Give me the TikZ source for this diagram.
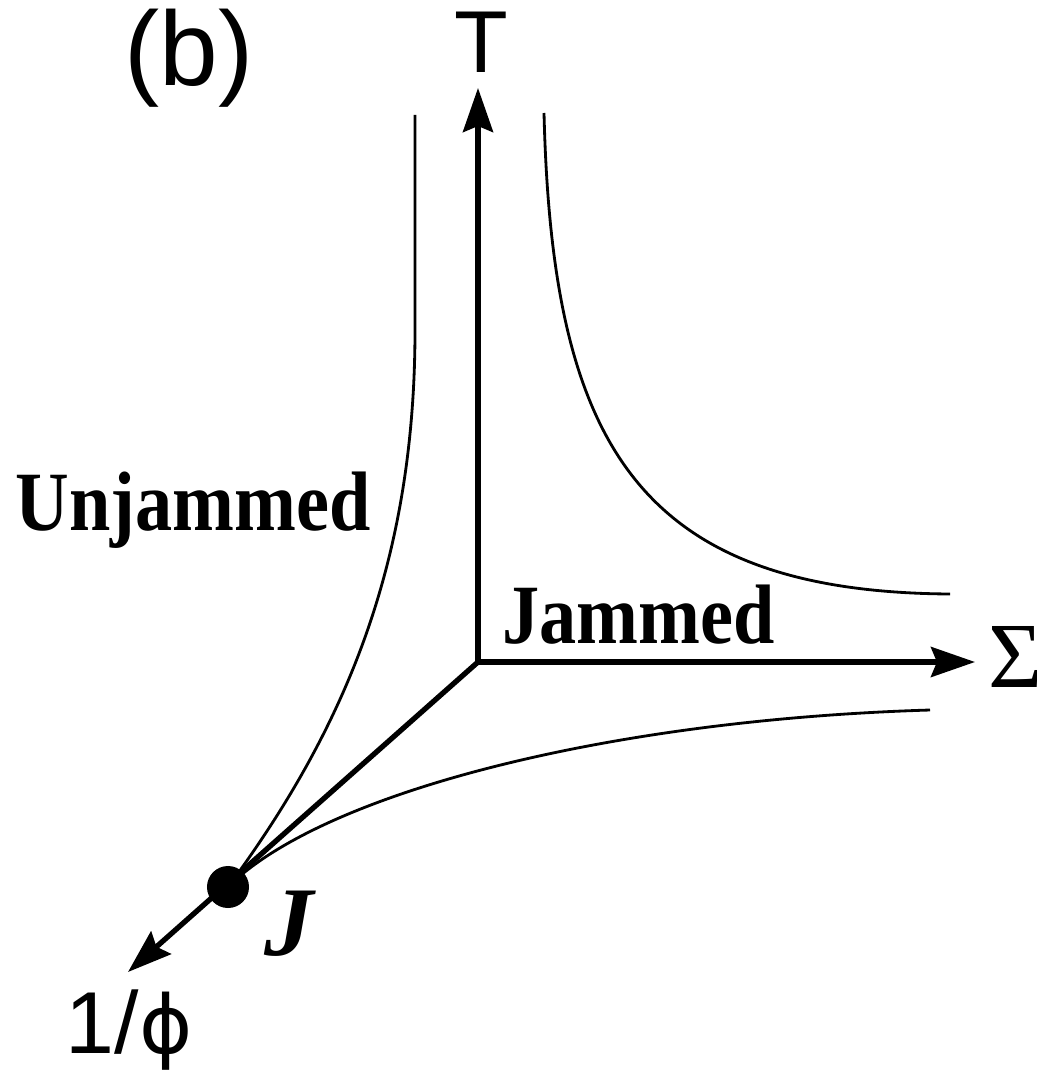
\documentclass[tikz,border=0pt]{standalone}
\usepackage{fontspec}
\setmainfont{Liberation Serif}
\newfontfamily\axfont{Liberation Sans}
\newfontfamily\phifont{DejaVu Sans}
\newfontfamily\phasefont[FakeStretch=0.88]{Liberation Serif}
\usetikzlibrary{arrows.meta}
\begin{document}
\begin{tikzpicture}[x=0.01cm,y=-0.01cm,
  axis/.style={line width=1.5pt,-{Stealth[length=4.4mm,width=3mm,inset=0.6mm]}},
  bound/.style={line width=0.8pt},
  phase/.style={font=\phasefont\bfseries\fontsize{24}{28}\selectfont,anchor=base west,inner sep=0pt},
  axlabel/.style={font=\axfont\fontsize{25}{30}\selectfont,inner sep=0pt}]
\useasboundingbox (0,0) rectangle (1037,1070);
% axes
\coordinate (O) at (478,662);
\coordinate (Ttip) at (478,88);
\coordinate (Stip) at (975,662);
\coordinate (Ptip) at (128,972);
\node[circle,fill,minimum size=4.2mm,inner sep=0pt] (J) at (228,887) {};
\draw[axis] (O) -- (Ttip);
\draw[axis] (O) -- (Stip);
\draw[axis] (O) -- (Ptip);
% phase boundaries
\draw[bound] (J.center) .. controls (340,735) and (415,570) .. (415,330) -- (415,115);
\draw[bound] (J.center) .. controls (320,795) and (600,720) .. (930,710);
\draw[bound] (544,113) .. controls (552,440) and (635,592) .. (950,594);
% labels
\node[font=\axfont\fontsize{30}{34}\selectfont,anchor=base] (panel) at (189,86) {(b)};
\node[axlabel,anchor=base] (Tlab) at (481,73) {T};
\node[font=\fontsize{26.5}{30}\selectfont,anchor=base west,inner sep=0pt] (Slab) at (988,687) {Σ};
\node[axlabel,anchor=base west] (Plab) at (65,1053) {1/{\phifont\fontsize{23}{28}\selectfont ϕ}};
\node[font=\bfseries\itshape\fontsize{28}{32}\selectfont] (Jlab) at (289,924) {J};
\node[phase] (unj) at (15,530) {Unjammed};
\node[phase] (jam) at (502,643) {Jammed};
\end{tikzpicture}
\end{document}
